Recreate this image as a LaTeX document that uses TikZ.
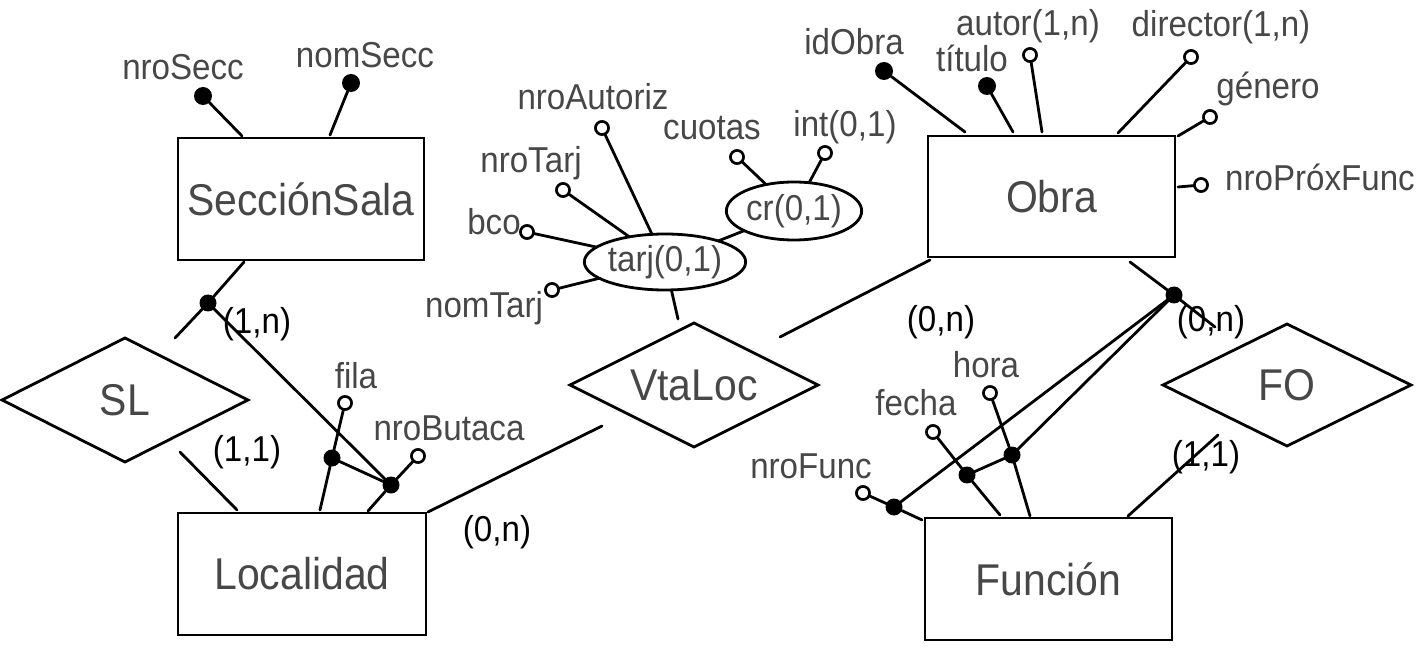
\documentclass[tikz,border=0pt]{standalone}
\usepackage{fontspec}
\setmainfont{Liberation Sans}
\newfontfamily\condf[FakeStretch=0.92]{Liberation Sans}
\usetikzlibrary{shapes.geometric}
\newcommand{\bigtxt}{\condf\fontsize{44.5}{46}\selectfont}
\newcommand{\smalltxt}{\condf\fontsize{36}{37}\selectfont}
\tikzset{
  ln/.style={line width=2.8pt, line cap=round},
  ent/.style={draw, line width=2.8pt, rectangle, inner sep=0pt, outer sep=0pt, text=black!72, font=\bigtxt},
  rel/.style={draw, line width=2.8pt, diamond, aspect=2, inner sep=0pt, outer sep=0pt, text=black!72, font=\bigtxt},
  comp/.style={draw, line width=2.8pt, ellipse, inner sep=0pt, outer sep=0pt, text=black!72, font=\smalltxt},
  att/.style={circle, draw, line width=2.5pt, fill=white, minimum size=13pt, inner sep=0pt, outer sep=0pt},
  keyd/.style={circle, fill=black, minimum size=18pt, inner sep=0pt, outer sep=0pt},
  lbl/.style={inner sep=0pt, text=black!72, font=\smalltxt},
  card/.style={inner sep=0pt, text=black, font=\smalltxt}
}
\begin{document}
\begin{tikzpicture}[x=1pt,y=-1pt]
\useasboundingbox (0,0) rectangle (1428,655);

% entities
\node[ent, minimum width=246pt, minimum height=122pt] (ss) at (301,199) {SecciónSala};
\node[ent, minimum width=248pt, minimum height=122pt] (loc) at (302,574) {Localidad};
\node[ent, minimum width=247pt, minimum height=121pt] (obra) at (1051.5,196.5) {Obra};
\node[ent, minimum width=247pt, minimum height=122pt] (func) at (1048.5,579) {Función};

% relationships
\node[rel, minimum width=246pt, minimum height=124pt] (sl) at (125,400) {SL};
\node[rel, minimum width=248pt, minimum height=124pt] (vt) at (694,385) {VtaLoc};
\node[rel, minimum width=248pt, minimum height=122pt] (fo) at (1287,385) {FO};

% composite attributes
\node[comp, minimum width=160pt, minimum height=56pt] (tarj) at (665,262) {tarj(0,1)};
\node[comp, minimum width=118pt, minimum height=58pt] (cr) at (794,211) {cr(0,1)};

% attribute labels
\node[lbl] (lnroSecc) at (183,67) {nroSecc};
\node[lbl] (lnomSecc) at (365,55) {nomSecc};
\node[lbl] (lnroAut) at (593,97) {nroAutoriz};
\node[lbl] (lcuotas) at (712,128) {cuotas};
\node[lbl] (lint) at (845,127) {int(0,1)};
\node[lbl] (lnroTarj) at (531,163) {nroTarj};
\node[lbl] (lbco) at (494,222) {bco};
\node[lbl] (lnomTarj) at (484,308) {nomTarj};
\node[lbl] (lfila) at (356,376) {fila};
\node[lbl] (lnroBut) at (449,428) {nroButaca};
\node[lbl] (lidObra) at (854,42) {idObra};
\node[lbl] (ltitulo) at (972,58) {título};
\node[lbl] (lautor) at (1028,26) {autor(1,n)};
\node[lbl] (ldirector) at (1221,27) {director(1,n)};
\node[lbl] (lgenero) at (1268,89) {género};
\node[lbl] (lnroProx) at (1320,177) {nroPróxFunc};
\node[lbl] (lhora) at (986,365) {hora};
\node[lbl] (lfecha) at (916,403) {fecha};
\node[lbl] (lnroFunc) at (811,466) {nroFunc};

% cardinalities
\node[card] (c1) at (257,324) {(1,n)};
\node[card] (c2) at (247,452) {(1,1)};
\node[card] (c3) at (497,532) {(0,n)};
\node[card] (c4) at (941,322) {(0,n)};
\node[card] (c5) at (1211,322) {(0,n)};
\node[card] (c6) at (1206,457) {(1,1)};

% attribute markers
\node[keyd] (dnroSecc) at (203,96) {};
\node[keyd] (dnomSecc) at (351,83) {};
\node[att] (anroAut) at (602,128) {};
\node[att] (acuotas) at (737,157) {};
\node[att] (aint) at (825,153) {};
\node[att] (anroTarj) at (563,190) {};
\node[att] (abco) at (527,232) {};
\node[att] (anomTarj) at (552,290) {};
\node[att] (afila) at (345,403) {};
\node[att] (anroBut) at (418,456) {};
\node[keyd] (didObra) at (884,71) {};
\node[keyd] (dtitulo) at (987,86) {};
\node[att] (aautor) at (1030,55) {};
\node[att] (adirector) at (1191,57) {};
\node[att] (agenero) at (1210,117) {};
\node[att] (anroProx) at (1201,185) {};
\node[att] (ahora) at (990,393) {};
\node[att] (afecha) at (933,432) {};
\node[att] (anroFunc) at (863,493) {};

% identifier dots
\node[keyd, minimum size=17pt] (dSL) at (208,303) {};
\node[keyd, minimum size=17pt] (dfila) at (332,458) {};
\node[keyd, minimum size=17pt] (dbut) at (391,485) {};
\node[keyd, minimum size=17pt] (dOF) at (1174,295) {};
\node[keyd, minimum size=17pt] (dhora) at (1012,455) {};
\node[keyd, minimum size=17pt] (dfecha) at (967,475) {};
\node[keyd, minimum size=17pt] (dnroFunc) at (894,507) {};

% free ends
\coordinate (e1) at (242,136);
\coordinate (e2) at (330,135);
\coordinate (e3) at (244,262);
\coordinate (e4) at (175,338);
\coordinate (e5) at (180,452);
\coordinate (e6) at (237,510);
\coordinate (e7) at (320,510);
\coordinate (e8) at (368,511);
\coordinate (e9) at (428,512);
\coordinate (e10) at (602,426);
\coordinate (e11) at (678,319);
\coordinate (e12) at (780,337);
\coordinate (e13) at (930,260);
\coordinate (e14) at (965,132);
\coordinate (e15) at (1013,132);
\coordinate (e16) at (1042,132);
\coordinate (e17) at (1118,133);
\coordinate (e18) at (1178,136);
\coordinate (e19) at (1178,187);
\coordinate (e20) at (1130,262);
\coordinate (e21) at (1215,327);
\coordinate (e22) at (922,520);
\coordinate (e23) at (1030,516);
\coordinate (e24) at (1000,515);
\coordinate (e25) at (1218,435);
\coordinate (e26) at (1128,516);

% SecciónSala attributes
\draw[ln] (dnroSecc) -- (e1);
\draw[ln] (dnomSecc) -- (e2);
% SecciónSala - SL
\draw[ln] (e3) -- (dSL) -- (e4);
\draw[ln] (dSL) -- (dbut);
\draw[ln] (e5) -- (e6);
% Localidad attributes
\draw[ln] (afila) -- (dfila) -- (e7);
\draw[ln] (dfila) -- (dbut);
\draw[ln] (anroBut) -- (dbut) -- (e8);
% Localidad - VtaLoc - Obra
\draw[ln] (e9) -- (e10);
\draw[ln] (e12) -- (e13);
% tarj
\draw[ln] (tarj) -- (e11);
\draw[ln] (anroAut) -- (tarj);
\draw[ln] (anroTarj) -- (tarj);
\draw[ln] (abco) -- (tarj);
\draw[ln] (anomTarj) -- (tarj);
\draw[ln] (cr) -- (tarj);
\draw[ln] (acuotas) -- (cr);
\draw[ln] (aint) -- (cr);
% Obra attributes
\draw[ln] (didObra) -- (e14);
\draw[ln] (dtitulo) -- (e15);
\draw[ln] (aautor) -- (e16);
\draw[ln] (adirector) -- (e17);
\draw[ln] (agenero) -- (e18);
\draw[ln] (e19) -- (anroProx);
% Obra - FO - Función
\draw[ln] (e20) -- (dOF) -- (e21);
\draw[ln] (dOF) -- (dnroFunc);
\draw[ln] (dOF) -- (dhora);
\draw[ln] (e25) -- (e26);
% Función attributes
\draw[ln] (anroFunc) -- (dnroFunc) -- (e22);
\draw[ln] (ahora) -- (dhora) -- (e23);
\draw[ln] (afecha) -- (dfecha) -- (e24);
\draw[ln] (dfecha) -- (dhora);

% redraw markers on top
\foreach \n in {anroAut,acuotas,aint,anroTarj,abco,anomTarj,afila,anroBut,aautor,adirector,agenero,anroProx,ahora,afecha,anroFunc}
  \draw[line width=2.5pt, fill=white] (\n.center) circle (6.5pt);
\end{tikzpicture}
\end{document}
